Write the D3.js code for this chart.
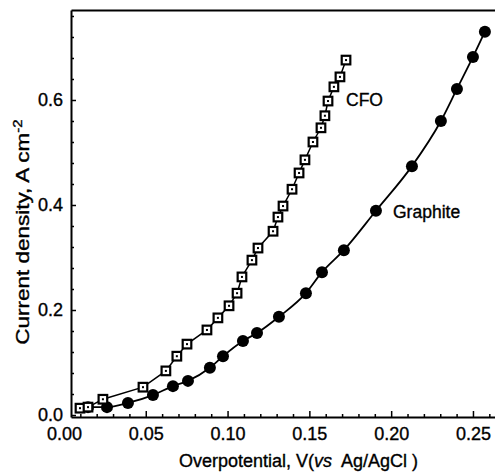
<!DOCTYPE html>
<html>
<head>
<meta charset="utf-8">
<script src="https://cdn.jsdelivr.net/npm/d3@7"></script>
<style>
body { margin: 0; background: #fff; }
svg { display: block; font-family: "Liberation Sans", Arial, sans-serif; }
svg text { fill: #000; stroke: #000; stroke-width: 0.35px; }
</style>
</head>
<body>
<svg id="chart" width="495" height="472"></svg>
<script>
// values (V vs Ag/AgCl, A cm-2)
var cfoX = [0.0098, 0.0147, 0.0238, 0.0483, 0.0623, 0.0690, 0.0752, 0.0874, 0.0941, 0.1009, 0.1058, 0.1088, 0.1149, 0.1186,
	0.1278, 0.1308, 0.1339, 0.1394, 0.1437, 0.1473, 0.1522, 0.1571, 0.1595, 0.1614, 0.1650, 0.1687, 0.1724];
var cfoY = [0.013, 0.015, 0.030, 0.053, 0.084, 0.112, 0.135, 0.162, 0.185, 0.208, 0.232, 0.263, 0.295, 0.318,
	0.350, 0.377, 0.398, 0.430, 0.461, 0.486, 0.520, 0.547, 0.570, 0.598, 0.625, 0.644, 0.676];

var graphiteX = [0.0147, 0.0263, 0.0391, 0.0544, 0.0666, 0.0758, 0.0892, 0.0972, 0.1094, 0.1180,
	0.1314, 0.1479, 0.1577, 0.1711, 0.1907, 0.2127, 0.2304, 0.2402, 0.2500, 0.2573];
var graphiteY = [0.015, 0.015, 0.023, 0.038, 0.055, 0.065, 0.090, 0.112, 0.141, 0.156,
	0.187, 0.232, 0.272, 0.314, 0.389, 0.474, 0.560, 0.621, 0.682, 0.730];

var xTicks = [0, 0.05, 0.10, 0.15, 0.20, 0.25];
var yTicks = [0.0, 0.2, 0.4, 0.6];

var svg = d3.select('#chart');

var x = d3.scaleLinear()
.domain([0.0043, 0.27])
.range([71, 71 + (0.27 - 0.0043) * 1636]);

var y = d3.scaleLinear()
.domain([-0.0038, 0.7714])
.range([417, 10]);

var cfo = cfoX.map(function(v, i) { return [v, cfoY[i]]; });
var graphite = graphiteX.map(function(v, i) { return [v, graphiteY[i]]; });

// frame / axes
var xAxis = svg.append('g')
.attr('transform', 'translate(0,' + y.range()[0] + ')')
.call(d3.axisBottom(x).tickValues(xTicks).tickSizeInner(-6).tickSizeOuter(0).tickPadding(10).tickFormat(d3.format('.2f')));

xAxis.selectAll('.tick').filter(function(d) { return d === 0; }).select('line').remove();

svg.append('g')
.attr('transform', 'translate(0,' + y.range()[0] + ')')
.call(d3.axisBottom(x).tickValues(d3.range(0.01, 0.27, 0.01).filter(function(d) {
	return Math.abs(d / 0.05 - Math.round(d / 0.05)) > 0.01;
})).tickSize(-3).tickFormat(''))
.select('.domain').remove();

svg.append('g')
.attr('transform', 'translate(' + x.range()[0] + ',0)')
.call(d3.axisLeft(y).tickValues(yTicks).tickSizeInner(-5).tickSizeOuter(0).tickPadding(8).tickFormat(d3.format('.1f')));

svg.append('g')
.attr('transform', 'translate(' + x.range()[0] + ',0)')
.call(d3.axisLeft(y).tickValues(d3.range(0.04, 0.77, 0.04).filter(function(d) {
	return Math.abs(d / 0.2 - Math.round(d / 0.2)) > 0.01;
})).tickSize(-3).tickFormat(''))
.select('.domain').remove();

svg.append('g')
.attr('transform', 'translate(0,' + y.range()[1] + ')')
.call(d3.axisTop(x).tickValues([]).tickSizeOuter(0));

svg.selectAll('.domain').style('stroke', '#000').style('stroke-width', 2);
svg.selectAll('.tick line').style('stroke', '#000').style('stroke-width', 1.5);
svg.selectAll('.tick text').style('font-size', '18px').style('font-family', '"Liberation Sans", Arial, sans-serif');

// lines
svg.append('path')
.datum(cfo)
.attr('d', d3.line().x(function(d) { return x(d[0]); }).y(function(d) { return y(d[1]); }))
.style('fill', 'none')
.style('stroke', '#000')
.style('stroke-width', 1.5);

svg.append('path')
.datum(graphite)
.attr('d', d3.line().curve(d3.curveMonotoneX).x(function(d) { return x(d[0]); }).y(function(d) { return y(d[1]); }))
.style('fill', 'none')
.style('stroke', '#000')
.style('stroke-width', 1.8);

// graphite markers
svg.append('g')
.selectAll('circle')
.data(graphite)
.enter()
.append('circle')
.attr('cx', function(d) { return x(d[0]); })
.attr('cy', function(d) { return y(d[1]); })
.attr('r', 6)
.style('fill', '#000');

// CFO markers: open square with a centre dot
var sq = svg.append('g')
.selectAll('g')
.data(cfo)
.enter()
.append('g')
.attr('transform', function(d) { return 'translate(' + x(d[0]) + ',' + y(d[1]) + ')'; });

sq.append('rect')
.attr('x', -4.3).attr('y', -4.3)
.attr('width', 8.6).attr('height', 8.6)
.style('fill', '#fff')
.style('stroke', '#000')
.style('stroke-width', 2.2);

sq.append('rect')
.attr('x', -1).attr('y', -1)
.attr('width', 2).attr('height', 2)
.style('fill', '#000');

// series labels
svg.append('text')
.attr('x', 346).attr('y', 106)
.style('font-size', '17.5px')
.text('CFO');

svg.append('text')
.attr('x', 393).attr('y', 218)
.style('font-size', '17.5px')
.text('Graphite');

// axis titles
var xt = svg.append('text')
.attr('x', 179).attr('y', 467)
.style('font-size', '18px');
xt.append('tspan').text('Overpotential, V(');
xt.append('tspan').style('font-style', 'italic').text('vs');
xt.append('tspan').text('\u00a0 Ag/AgCl )');

var yt = svg.append('text')
.attr('transform', 'translate(29,232) rotate(-90) scale(1.25,1)')
.attr('text-anchor', 'middle')
.style('font-size', '18px');
yt.append('tspan').text('Current density, A cm');
yt.append('tspan').attr('dy', -7).style('font-size', '12px').text('-2');
</script>
</body>
</html>
